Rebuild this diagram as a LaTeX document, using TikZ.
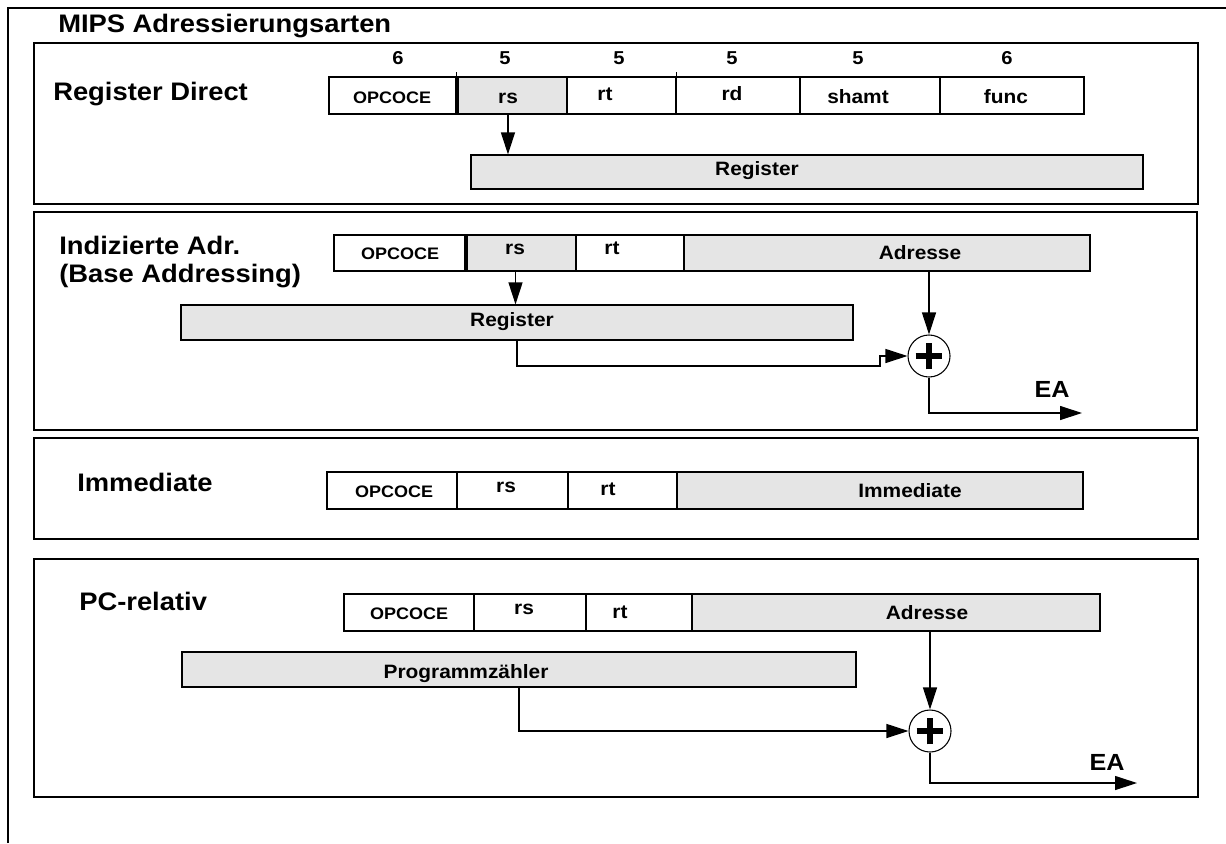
\documentclass[tikz,border=0pt]{standalone}
\usepackage{fontspec}
\setmainfont{Liberation Sans}[FakeStretch=1.08]
\usetikzlibrary{arrows.meta,fit}
\definecolor{fg}{HTML}{E5E5E5}
\begin{document}
\begin{tikzpicture}[x=0.75pt,y=-0.75pt,
  box/.style={draw, line width=0.9pt, inner sep=0pt},
  fld/.style={box, fill=white},
  gfld/.style={box, fill=fg},
  panel/.style={draw, line width=1pt, inner sep=0pt},
  conn/.style={line width=0.9pt},
  arr/.style={conn, -{Triangle[length=16.5pt,width=10.5pt]}},
  adder/.style={circle, draw, line width=0.8pt, minimum size=31.5pt, inner sep=0pt, fill=white},
  plusbar/.style={line width=5pt},
  head/.style={anchor=base west, inner sep=0pt, font=\bfseries\fontsize{19}{22}\selectfont},
  big/.style={anchor=base, inner sep=0pt, font=\bfseries\fontsize{14.5}{17}\selectfont},
  sml/.style={anchor=base, inner sep=0pt, font=\bfseries\fontsize{14.5}{17}\selectfont},
  opc/.style={anchor=base, inner sep=0pt, font=\bfseries\fontsize{12.5}{15}\selectfont},
  num/.style={anchor=base, inner sep=0pt, font=\bfseries\fontsize{14}{16}\selectfont},
  ea/.style={anchor=base, inner sep=0pt, font=\bfseries\fontsize{17.5}{20}\selectfont}]
\useasboundingbox (0,0) rectangle (1226,843);
% outer frame
\draw[line width=1pt] (8,843) -- (8,8) -- (1226,8);
\node[head] (title) at (58,32) {MIPS Adressierungsarten};

% ---------------- Panel 1: Register Direct
\node[panel, fit={(34,43)(1198,204)}] (pan1) {};
\node[head] (h1) at (53,100) {Register Direct};
\node[fld,  fit={(329,77)(456,114)}] (p1op) {};
\node[gfld, fit={(458,77)(567,114)}] (p1rs) {};
\node[fld,  fit={(567,77)(676,114)}] (p1rt) {};
\node[fld,  fit={(676,77)(800,114)}] (p1rd) {};
\node[fld,  fit={(800,77)(940,114)}] (p1sh) {};
\node[fld,  fit={(940,77)(1084,114)}] (p1fu) {};
\draw[line width=0.9pt] (p1op.north east) -- ++(0,-4);
\draw[line width=0.9pt] (p1rt.north east) -- ++(0,-4);
\node[num] (n1) at (398,64) {6};
\node[num] (n2) at (505,64) {5};
\node[num] (n3) at (619,64) {5};
\node[num] (n4) at (732,64) {5};
\node[num] (n5) at (858,64) {5};
\node[num] (n6) at (1007,64) {6};
\node[opc] (t1op) at (392,103) {OPCOCE};
\node[sml] (t1rs) at (508,103) {rs};
\node[sml] (t1rt) at (605,100) {rt};
\node[sml] (t1rd) at (732,100) {rd};
\node[sml] (t1sh) at (858,103) {shamt};
\node[sml] (t1fu) at (1006,103) {func};
\node[gfld, fit={(471,155)(1143,189)}] (p1reg) {};
\node[big] (t1reg) at (757,175) {Register};
\coordinate (p1a) at ([xshift=-3.4pt]p1rs.south);
\draw[arr] (p1a) -- (p1a |- p1reg.north);

% ---------------- Panel 2: Indizierte Adr.
\node[panel, fit={(34,212)(1197,430)}] (pan2) {};
\node[head] (h2a) at (59,254) {Indizierte Adr.};
\node[head] (h2b) at (59,282) {(Base Addressing)};
\node[fld,  fit={(334,235)(465,271)}] (p2op) {};
\node[gfld, fit={(467,235)(576,271)}] (p2rs) {};
\node[fld,  fit={(576,235)(684,271)}] (p2rt) {};
\node[gfld, fit={(684,235)(1090,271)}] (p2adr) {};
\node[opc] (t2op) at (400,259) {OPCOCE};
\node[sml] (t2rs) at (515,254) {rs};
\node[sml] (t2rt) at (612,254) {rt};
\node[big] (t2adr) at (920,259) {Adresse};
\node[gfld, fit={(181,305)(853,340)}] (p2reg) {};
\node[big] (t2reg) at (512,326) {Register};
\coordinate (p2a) at ([xshift=-4.5pt]p2rs.south);
\draw[arr] (p2a) -- (p2a |- p2reg.north);
\node[adder] (p2add) at (929,356) {};
\draw[plusbar] ([xshift=-10pt]p2add.center) -- ([xshift=10pt]p2add.center);
\draw[plusbar] ([yshift=-10pt]p2add.center) -- ([yshift=10pt]p2add.center);
\coordinate (p2s) at (880,366);
\draw[arr] (p2reg.south) |- (p2s) |- (p2add.west);
\draw[arr] (p2add |- p2adr.south) -- (p2add.north);
\coordinate (p2ea) at (1082,413);
\draw[arr] (p2add.south) |- (p2ea);
\node[ea] (t2ea) at (1052,397) {EA};

% ---------------- Panel 3: Immediate
\node[panel, fit={(34,438)(1198,539)}] (pan3) {};
\node[head] (h3) at (77,491) {Immediate};
\node[fld,  fit={(327,472)(457,509)}] (p3op) {};
\node[fld,  fit={(457,472)(568,509)}] (p3rs) {};
\node[fld,  fit={(568,472)(677,509)}] (p3rt) {};
\node[gfld, fit={(677,472)(1083,509)}] (p3imm) {};
\node[opc] (t3op) at (394,497) {OPCOCE};
\node[sml] (t3rs) at (506,492) {rs};
\node[sml] (t3rt) at (608,495) {rt};
\node[big] (t3imm) at (910,497) {Immediate};

% ---------------- Panel 4: PC-relativ
\node[panel, fit={(34,559)(1198,797)}] (pan4) {};
\node[head] (h4) at (79,610) {PC-relativ};
\node[fld,  fit={(344,594)(474,631)}] (p4op) {};
\node[fld,  fit={(474,594)(586,631)}] (p4rs) {};
\node[fld,  fit={(586,594)(692,631)}] (p4rt) {};
\node[gfld, fit={(692,594)(1100,631)}] (p4adr) {};
\node[opc] (t4op) at (409,619) {OPCOCE};
\node[sml] (t4rs) at (524,614) {rs};
\node[sml] (t4rt) at (620,618) {rt};
\node[big] (t4adr) at (927,619) {Adresse};
\node[gfld, fit={(182,652)(856,687)}] (p4pc) {};
\node[big] (t4pc) at (466,678) {Programmzähler};
\node[adder] (p4add) at (930,731) {};
\draw[plusbar] ([xshift=-10pt]p4add.center) -- ([xshift=10pt]p4add.center);
\draw[plusbar] ([yshift=-10pt]p4add.center) -- ([yshift=10pt]p4add.center);
\draw[arr] (p4pc.south) |- (p4add.west);
\draw[arr] (p4add |- p4adr.south) -- (p4add.north);
\coordinate (p4ea) at (1137,783);
\draw[arr] (p4add.south) |- (p4ea);
\node[ea] (t4ea) at (1107,770) {EA};
\end{tikzpicture}
\end{document}
